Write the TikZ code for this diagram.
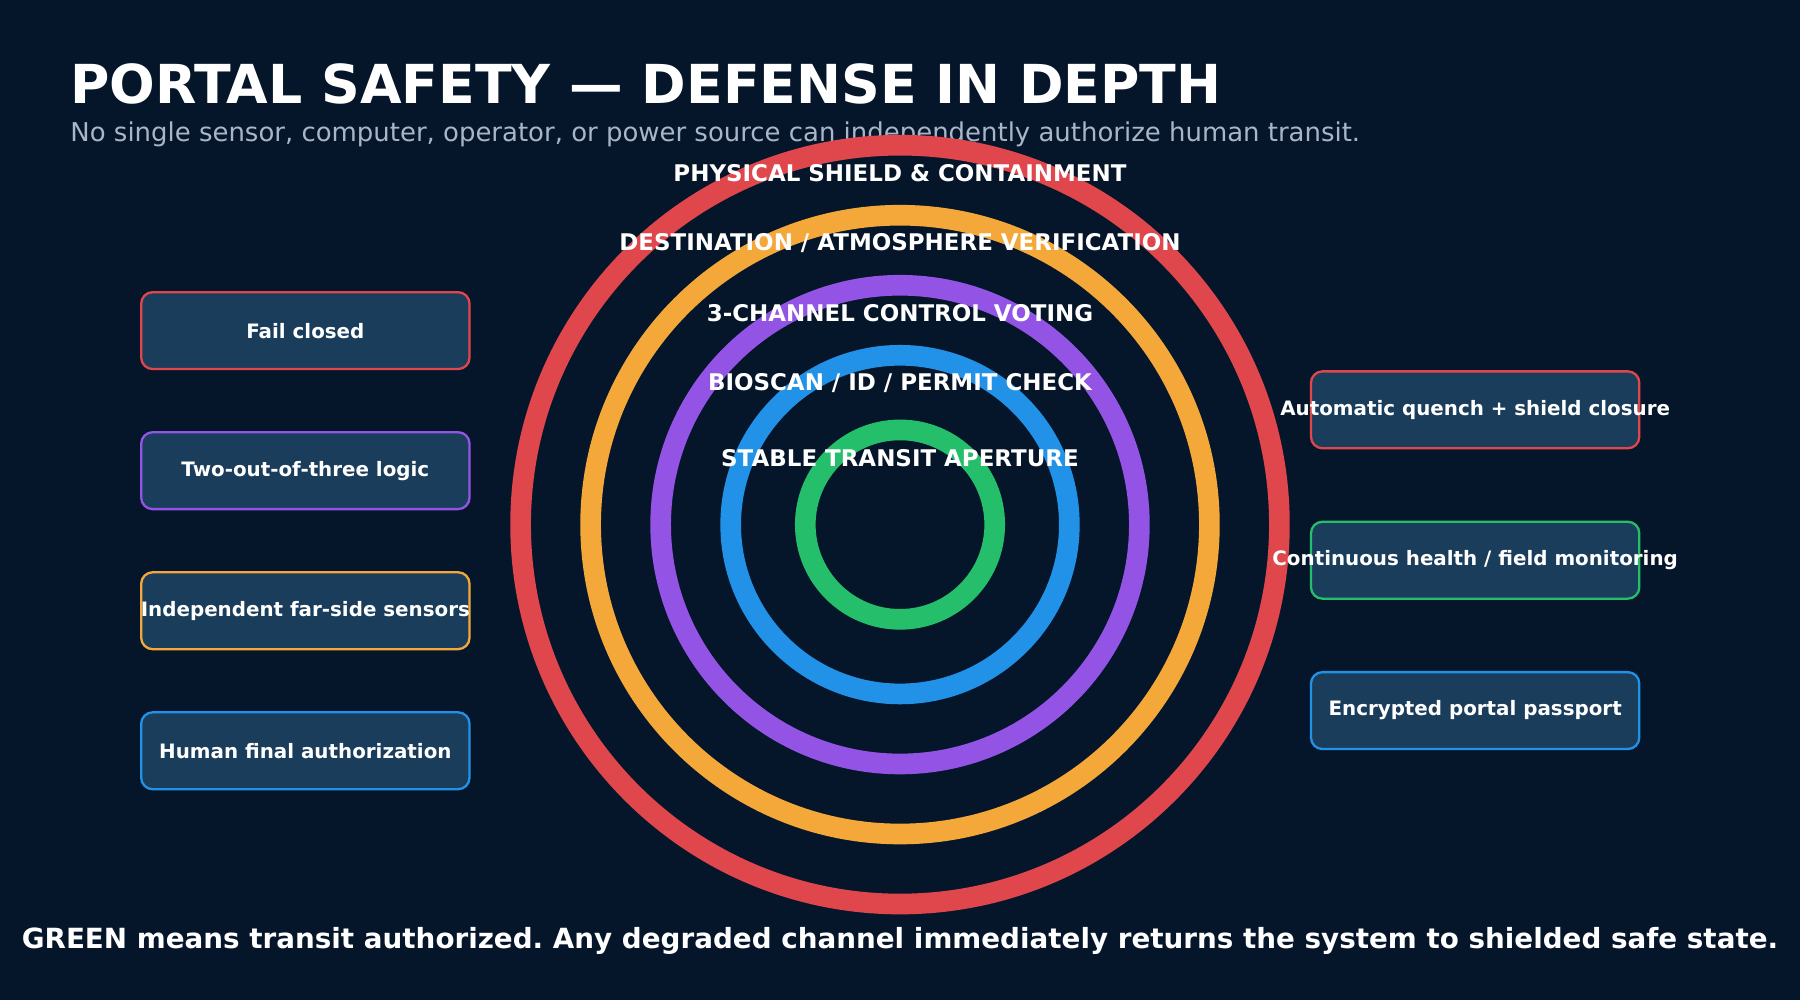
\documentclass[tikz,border=0pt]{standalone}
\usepackage{fontspec}
\setmainfont{DejaVu Sans}
\begin{document}
\frenchspacing
\definecolor{bg}{HTML}{06162A}
\definecolor{boxf}{HTML}{1A3D5C}
\definecolor{cr}{HTML}{E0474C}
\definecolor{co}{HTML}{F5A83A}
\definecolor{cp}{HTML}{9354E6}
\definecolor{cb}{HTML}{2292E8}
\definecolor{cg}{HTML}{25BF6B}
\definecolor{sub}{HTML}{A9B6C8}
\begin{tikzpicture}[x=0.5pt,y=-0.5pt,
 ring/.style={line width=9pt},
 rl/.style={text=white,font=\fontsize{10}{12}\selectfont\bfseries},
 box/.style={draw,line width=1pt,fill=boxf,rounded corners=5pt,minimum width=143pt,minimum height=33.5pt},
 bt/.style={text=white,font=\fontsize{8.65}{10}\selectfont\bfseries}]
\fill[bg] (0,0) rectangle (1568,871);
\useasboundingbox (0,0) rectangle (1568,871);
\node[anchor=west,inner sep=0pt,text=white,font=\fontsize{23.4}{28}\selectfont\bfseries] (title) at (61,73) {PORTAL SAFETY — DEFENSE IN DEPTH};
\node[anchor=west,inner sep=0pt,text=sub,font=\fontsize{11.3}{13}\selectfont] (subt) at (61,117) {No single sensor, computer, operator, or power source can independently authorize human transit.};
\draw[ring,cr] (784,457) circle[radius=330.5];
\draw[ring,co] (784,457) circle[radius=269.5];
\draw[ring,cp] (784,457) circle[radius=208.5];
\draw[ring,cb] (784,457) circle[radius=147.5];
\draw[ring,cg] (784,457) circle[radius=82.5];
\node[rl] (l1) at (784,151) {PHYSICAL SHIELD \& CONTAINMENT};
\node[rl] (l2) at (784,212) {DESTINATION / ATMOSPHERE VERIFICATION};
\node[rl] (l3) at (784,273) {3-CHANNEL CONTROL VOTING};
\node[rl] (l4) at (784,334) {BIOSCAN / ID / PERMIT CHECK};
\node[rl] (l5) at (784,399) {STABLE TRANSIT APERTURE};
\node[box,draw=cr] (a) at (266,288) {}; \node[bt] at (a) {Fail closed};
\node[box,draw=cp] (b) at (266,410) {}; \node[bt] at (b) {Two-out-of-three logic};
\node[box,draw=co] (c) at (266,532) {}; \node[bt] at (c) {Independent far-side sensors};
\node[box,draw=cb] (d) at (266,654) {}; \node[bt] at (d) {Human final authorization};
\node[box,draw=cr] (e) at (1285,357) {}; \node[bt] at (e) {Automatic quench + shield closure};
\node[box,draw=cg] (f) at (1285,488) {}; \node[bt] at (f) {Continuous health / field monitoring};
\node[box,draw=cb] (g) at (1285,619) {}; \node[bt] at (g) {Encrypted portal passport};
\node[text=white,font=\fontsize{12.1}{14}\selectfont\bfseries] (foot) at (784,820) {GREEN means transit authorized. Any degraded channel immediately returns the system to shielded safe state.};
\end{tikzpicture}
\end{document}
